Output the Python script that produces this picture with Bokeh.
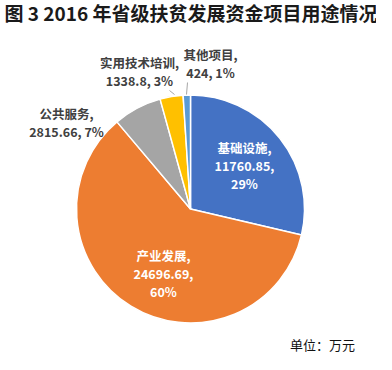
import math
from bokeh.plotting import figure
from bokeh.models import ColumnDataSource, Range1d
from bokeh.core.properties import value
from bokeh.embed import file_html
from bokeh.resources import INLINE

# ---------------- data ----------------
title_text = "图 3 2016 年省级扶贫发展资金项目用途情况"
categories = ["基础设施", "产业发展", "公共服务", "实用技术培训", "其他项目"]
amounts = [11760.85, 24696.69, 2815.66, 1338.8, 424]
unit_note = "单位：万元"

# ---------------- styles / layout ----------------
colors = ["#4472C4", "#ED7D31", "#A5A5A5", "#FFC000", "#5B9BD5"]
W, H = 376, 354
FONT = "Noto Sans CJK SC"


def X(px):
    return px - 8


def Y(py):
    return H - (py - 8)


cx, cy, R = X(198), Y(216.5), 114

# label layout: (center x, first line y, inside?) in page pixels
label_layout = [
    (252, 155, True),
    (171, 263, True),
    (74, 121, False),
    (147, 70, False),
    (218, 62, False),
]
LINE_GAP = 18

total = sum(amounts)
fracs = [a / total for a in amounts]
starts, ends = [], []
cum = 0.0
for f in fracs:
    starts.append(math.pi / 2 - cum * 2 * math.pi)
    cum += f
    ends.append(math.pi / 2 - cum * 2 * math.pi)

pie_src = ColumnDataSource(dict(
    x=[cx] * len(amounts), y=[cy] * len(amounts),
    start=starts, end=ends, color=colors, cat=categories, amt=amounts,
))

p = figure(width=W, height=H, x_range=Range1d(0, W), y_range=Range1d(0, H),
           output_backend="svg", toolbar_location=None, min_border=0)
p.axis.visible = False
p.grid.visible = False
p.outline_line_color = None
p.background_fill_color = "white"
p.border_fill_color = "white"

p.wedge(x="x", y="y", radius=R, start_angle="start", end_angle="end",
        direction="clock", fill_color="color", line_color="white",
        line_width=1.5, source=pie_src)


def fmt(v):
    return ("%.2f" % v).rstrip("0").rstrip(".")


lx, ly, lt, lc = [], [], [], []
for cat, amt, f, (ax, ay, inside) in zip(categories, amounts, fracs, label_layout):
    pct = "%d%%" % round(f * 100)
    if inside:
        lines = [cat + ",", fmt(amt) + ",", pct]
        col = "white"
    else:
        lines = [cat + ",", fmt(amt) + ", " + pct]
        col = "#404040"
    for i, s in enumerate(lines):
        lx.append(X(ax))
        ly.append(Y(ay + i * LINE_GAP))
        lt.append(s)
        lc.append(col)

lab_src = ColumnDataSource(dict(x=lx, y=ly, text=lt, color=lc))
p.text(x="x", y="y", text="text", text_color="color", source=lab_src,
       text_font=value(FONT), text_font_size="12.5px", text_font_style="bold",
       text_align="center", text_baseline="middle")

# leader lines
p.segment(x0=[X(177), X(195)], y0=[Y(98), Y(90)], x1=[X(182), X(194)], y1=[Y(102), Y(102)],
          line_color="#A6A6A6", line_width=1)

# title
p.text(x=[X(12)], y=[Y(20)], text=[title_text], text_font=value(FONT),
       text_font_size="19px", text_font_style="bold", text_color="#1a1a1a",
       text_align="left", text_baseline="middle")

# unit note
p.text(x=[X(330)], y=[Y(352)], text=[unit_note], text_font=value(FONT),
       text_font_size="13px", text_font_style="normal", text_color="#111111",
       text_align="center", text_baseline="middle")

open("out.html", "w").write(file_html(p, INLINE))
